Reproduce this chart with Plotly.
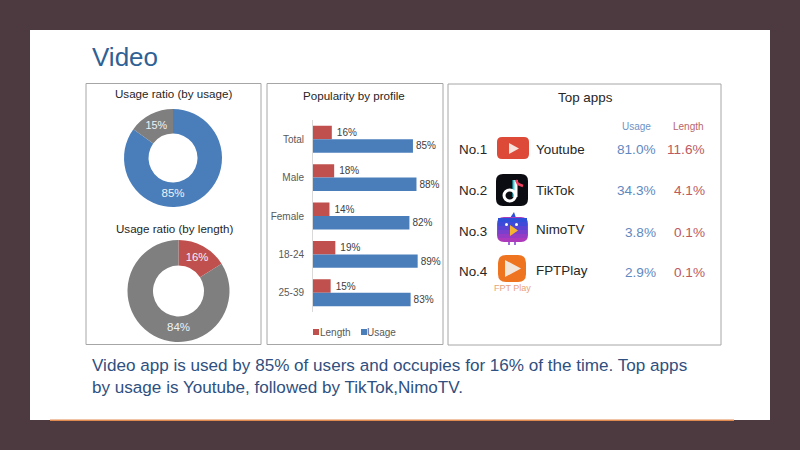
import plotly.graph_objects as go

FONT = "Liberation Sans"
W, H = 800, 450

# ---- data ----
usage_labels = ["Used", "Other"]
usage_values = [85, 15]
length_labels = ["Video", "Other"]
length_values = [16, 84]
profiles = ["Total", "Male", "Female", "18-24", "25-39"]
profile_length = [16, 18, 14, 19, 15]
profile_usage = [85, 88, 82, 89, 83]
app_ranks = ["No.1", "No.2", "No.3", "No.4"]
app_names = ["Youtube", "TikTok", "NimoTV", "FPTPlay"]
app_usage = ["81.0%", "34.3%", "3.8%", "2.9%"]
app_length = ["11.6%", "4.1%", "0.1%", "0.1%"]
title_text = "Video"
caption_lines = [
    "Video app is used by 85% of users and occupies for 16% of the time. Top apps",
    "by usage is Youtube, followed by TikTok,NimoTV.",
]

BLUE = "#4A7EBB"
RED = "#C0504D"
GREY = "#7F7F7F"
BG = "#4C3A40"


def fx(x):
    return x / W


def fy(y):
    return 1 - y / H


def rect(x0, y0, x1, y1, fill=None, line=None, lw=1, layer="below"):
    return dict(type="rect", xref="paper", yref="paper",
                x0=fx(x0), x1=fx(x1), y0=fy(y0), y1=fy(y1),
                fillcolor=fill or "rgba(0,0,0,0)",
                line=dict(color=line or "rgba(0,0,0,0)", width=lw if line else 0),
                layer=layer)


def path(points, fill=None, line=None, lw=0, close=True, layer="above"):
    d = "M " + " L ".join(f"{fx(x):.5f},{fy(y):.5f}" for x, y in points)
    if close:
        d += " Z"
    return dict(type="path", xref="paper", yref="paper", path=d,
                fillcolor=fill or "rgba(0,0,0,0)",
                line=dict(color=line or "rgba(0,0,0,0)", width=lw), layer=layer)


def rrect(x0, y0, x1, y1, r, fill):
    d = (f"M {fx(x0+r):.5f},{fy(y0):.5f} L {fx(x1-r):.5f},{fy(y0):.5f} "
         f"Q {fx(x1):.5f},{fy(y0):.5f} {fx(x1):.5f},{fy(y0+r):.5f} "
         f"L {fx(x1):.5f},{fy(y1-r):.5f} Q {fx(x1):.5f},{fy(y1):.5f} {fx(x1-r):.5f},{fy(y1):.5f} "
         f"L {fx(x0+r):.5f},{fy(y1):.5f} Q {fx(x0):.5f},{fy(y1):.5f} {fx(x0):.5f},{fy(y1-r):.5f} "
         f"L {fx(x0):.5f},{fy(y0+r):.5f} Q {fx(x0):.5f},{fy(y0):.5f} {fx(x0+r):.5f},{fy(y0):.5f} Z")
    return dict(type="path", xref="paper", yref="paper", path=d, fillcolor=fill,
                line=dict(width=0), layer="above")


def text(x, y, s, size, color="#262626", anchor="left"):
    pad = {"left": -2, "right": 2, "center": 0}[anchor]
    return dict(xref="paper", yref="paper", x=fx(x + pad), y=fy(y), text=s, showarrow=False,
                xanchor=anchor, yanchor="middle", align=anchor,
                font=dict(family=FONT, size=size, color=color))


def donut_domain(cx, cy, r):
    return dict(x=[fx(cx - r), fx(cx + r)], y=[fy(cy + r), fy(cy - r)])


fig = go.Figure()

fig.add_trace(go.Pie(
    labels=usage_labels, values=usage_values, hole=0.5, sort=False,
    direction="clockwise", rotation=0, domain=donut_domain(173, 158, 49),
    marker=dict(colors=[BLUE, GREY], line=dict(width=0)),
    texttemplate="%{value}%", textposition="inside",
    insidetextorientation="horizontal",
    insidetextfont=dict(family=FONT, size=11.5, color="#EEF2F7"),
    showlegend=False, hoverinfo="skip"))

fig.add_trace(go.Pie(
    labels=length_labels, values=length_values, hole=0.5, sort=False,
    direction="clockwise", rotation=0, domain=donut_domain(178.5, 291, 51),
    marker=dict(colors=[RED, GREY], line=dict(width=0)),
    texttemplate="%{value}%", textposition="inside",
    insidetextorientation="horizontal",
    insidetextfont=dict(family=FONT, size=11.5, color="#EEF2F7"),
    showlegend=False, hoverinfo="skip"))

fig.add_trace(go.Bar(
    name="Length", y=profiles, x=profile_length, orientation="h",
    marker=dict(color=RED, line=dict(width=0)),
    text=[f"\u2009{v}%" for v in profile_length], textposition="outside",
    textfont=dict(family=FONT, size=10, color="#404040"),
    cliponaxis=False, hoverinfo="skip", showlegend=False))

fig.add_trace(go.Bar(
    name="Usage", y=profiles, x=profile_usage, orientation="h",
    marker=dict(color=BLUE, line=dict(width=0)),
    text=[f"{v}%" for v in profile_usage], textposition="outside",
    textfont=dict(family=FONT, size=10, color="#404040"),
    cliponaxis=False, hoverinfo="skip", showlegend=False))

shapes = [
    rect(30, 30, 770, 420, fill="#FFFFFF"),
    rect(50, 419.5, 734, 421, fill="#E08A50"),
    rect(86, 83.5, 261, 344.5, line="#A6A6A6"),
    rect(267, 83.5, 443, 344.5, line="#A6A6A6"),
    rect(448, 84, 721, 345, line="#A6A6A6"),
    # legend keys
    rect(313, 329, 319, 335, fill=RED),
    rect(361, 329, 367, 335, fill=BLUE),
    # Youtube icon
    rrect(497, 137, 529, 159, 5, "#DE4A38"),
    path([(509, 143), (519, 148.5), (509, 154)], fill="#F8E4DC"),
    # TikTok icon
    rrect(496, 174, 528, 206, 7, "#0B0B12"),
    path([(514, 180), (514, 197)], line="#25D7E0", lw=3, close=False),
    path([(516, 180), (516, 197)], line="#FFFFFF", lw=3, close=False),
    dict(type="circle", xref="paper", yref="paper", x0=fx(504), x1=fx(515.5),
         y0=fy(201), y1=fy(190), line=dict(color="#FFFFFF", width=3),
         fillcolor="rgba(0,0,0,0)", layer="above"),
    path([(516, 180), (518, 184), (523, 186)], line="#F04060", lw=2.5, close=False),
    # FPT Play icon
    rrect(498, 255, 526, 282, 8, "#EE7420"),
    path([(505, 260), (521, 268.5), (505, 277)], fill="#F2E6DA"),
]

# Nimo icon: stacked bands make its vertical gradient
nimo_bands = ["#2E50D8", "#3D4BD8", "#5A44D4", "#7A3FCC", "#963CC4", "#AC3ABB"]
shapes.append(path([(510, 218), (514, 212), (516, 218)], fill="#2E50D8"))
shapes.append(rrect(497, 217, 528, 242, 7, "#AC3ABB"))
for i, c in enumerate(nimo_bands[:-1]):
    shapes.append(rect(498, 218 + i * 4, 527, 222 + i * 4, fill=c, layer="above"))
shapes += [
    path([(509, 242), (509, 245)], line="#7A3FCC", lw=1.5, close=False),
    path([(515, 242), (515, 245)], line="#7A3FCC", lw=1.5, close=False),
    path([(510, 225), (518, 230.5), (510, 236)], fill="#F5B52E"),
    dict(type="circle", xref="paper", yref="paper", x0=fx(505), x1=fx(508),
         y0=fy(226), y1=fy(223), fillcolor="#FFFFFF", line=dict(width=0), layer="above"),
    dict(type="circle", xref="paper", yref="paper", x0=fx(515), x1=fx(518),
         y0=fy(226), y1=fy(223), fillcolor="#FFFFFF", line=dict(width=0), layer="above"),
]

annotations = [
    text(92, 57, title_text, 26, "#2F6195"),
    text(92, 365, caption_lines[0], 17.1, "#2F5080"),
    text(92, 387, caption_lines[1], 17.1, "#2F5080"),
    text(173, 93, "Usage ratio (by usage)", 11.6, "#262626", "center"),
    text(174, 228, "Usage ratio (by length)", 11.6, "#262626", "center"),
    text(354, 95, "Popularity by profile", 11.6, "#262626", "center"),
    text(585, 98, "Top apps", 13.4, "#262626", "center"),
    text(636, 126, "Usage", 10, "#6E93C4", "center"),
    text(688, 126, "Length", 10, "#B9656B", "center"),
    text(512, 288, "FPT Play", 9, "#E8A27A", "center"),
    text(320, 332, "Length", 10, "#595959"),
    text(367, 332, "Usage", 10, "#595959"),
]
rank_ys = [150, 190, 231, 271]
name_ys = [150, 190, 230, 270]
value_ys = [150, 191, 232, 272]
for i in range(len(app_names)):
    annotations.append(text(459, rank_ys[i], app_ranks[i], 13.4))
    annotations.append(text(536, name_ys[i], app_names[i], 13.4))
    annotations.append(text(656, value_ys[i], app_usage[i], 13.6, "#5F88BF", "right"))
    annotations.append(text(705, value_ys[i], app_length[i], 13.6, "#BC5A60", "right"))

fig.update_layout(
    width=W, height=H, autosize=False,
    margin=dict(l=0, r=0, t=0, b=0),
    paper_bgcolor=BG, plot_bgcolor="rgba(0,0,0,0)",
    font=dict(family=FONT),
    showlegend=False,
    barmode="group", bargap=0.3, bargroupgap=0,
    xaxis=dict(domain=[fx(313), fx(430.6)], range=[0, 100], visible=False),
    yaxis=dict(domain=[fy(312), fy(120)], autorange="reversed", anchor="x",
               showline=True, linecolor="#D9D9D9", linewidth=1, ticks="",
               tickfont=dict(family=FONT, size=10, color="#595959"), ticklabelstandoff=6),
    shapes=shapes, annotations=annotations,
)

fig.write_html(
    "out.html",
    config={"displayModeBar": False},
    post_script=f"document.body.style.margin='0';document.body.style.overflow='hidden';"
                f"document.body.style.background='{BG}';",
)
